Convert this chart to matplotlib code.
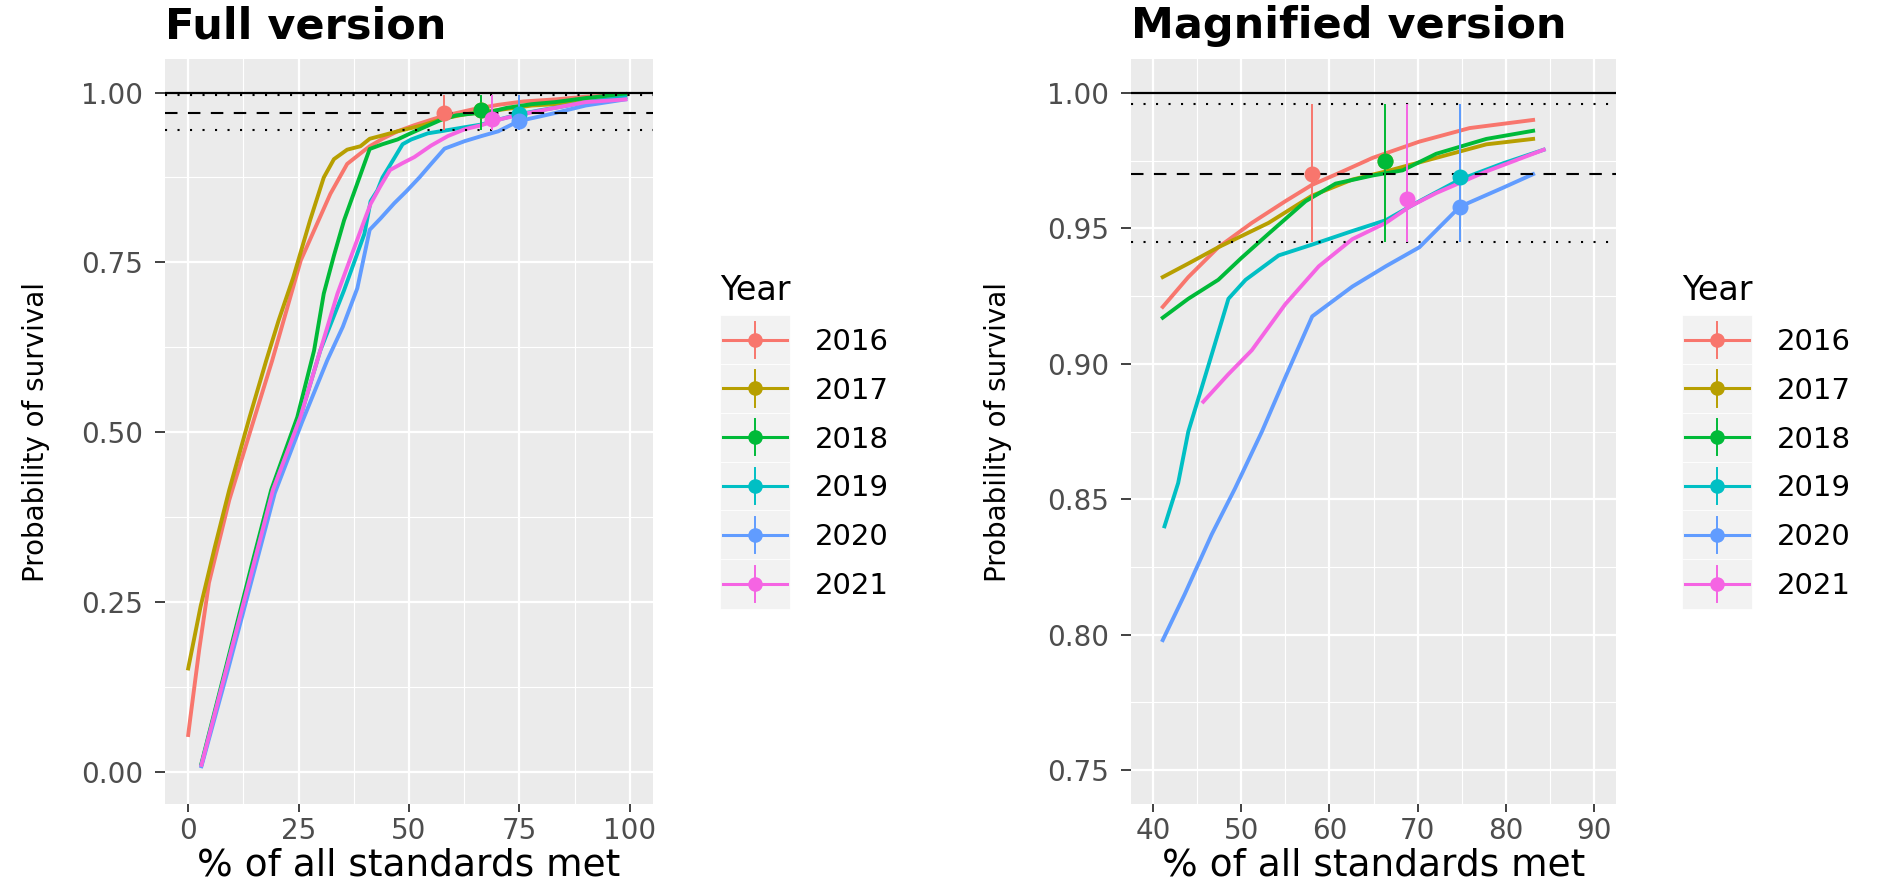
import numpy as np
import matplotlib
matplotlib.use("Agg")
import matplotlib.pyplot as plt
from matplotlib.lines import Line2D
from matplotlib.patches import Rectangle
from matplotlib.legend_handler import HandlerBase
from matplotlib.ticker import FixedLocator, FormatStrFormatter

plt.rcParams['font.family'] = ['DejaVu Sans']

years = ['2016', '2017', '2018', '2019', '2020', '2021']
colors = ['#F8766D', '#B79F00', '#00BA38', '#00BFC4', '#619CFF', '#F564E3']

# survival curves (% of standards met vs probability)
x_2016 = [0.0, 0.5, 2.5, 4.7, 9.3, 14.0, 19.0, 25.5, 32.2, 36.0, 39.9, 41.1, 44.0, 47.4,
          51.2, 55.0, 58.0, 61.5, 64.9, 70.2, 75.9, 83.1, 90.0, 99.0]
y_2016 = [0.054, 0.08, 0.18, 0.278, 0.40, 0.50, 0.605, 0.753, 0.851, 0.895, 0.915, 0.921,
          0.932, 0.943, 0.952, 0.960, 0.966, 0.971, 0.976, 0.982, 0.987, 0.990, 0.994, 0.997]

x_2017 = [0.0, 2.8, 6.0, 9.3, 13.9, 17.7, 20.5, 23.8, 27.6, 30.7, 33.0, 36.0, 39.0, 41.1,
          44.0, 47.4, 53.1, 58.0, 62.6, 66.4, 72.1, 77.8, 83.1, 90.0, 99.0]
y_2017 = [0.152, 0.243, 0.33, 0.415, 0.522, 0.606, 0.665, 0.728, 0.812, 0.875, 0.902, 0.916,
          0.921, 0.932, 0.937, 0.943, 0.952, 0.962, 0.968, 0.971, 0.976, 0.981, 0.983, 0.99, 0.997]

x_2018 = [3.0, 8.4, 14.3, 18.8, 24.7, 28.5, 30.7, 33.0, 35.3, 38.5, 41.1, 44.0, 47.4, 50.0,
          53.1, 57.3, 60.7, 64.9, 68.3, 72.1, 77.8, 83.1, 90.0, 99.0]
y_2018 = [0.012, 0.15, 0.302, 0.415, 0.522, 0.62, 0.704, 0.76, 0.812, 0.87, 0.917, 0.924,
          0.931, 0.939, 0.948, 0.960, 0.9665, 0.9695, 0.9714, 0.9775, 0.983, 0.986, 0.992, 0.998]

x_2019 = [3.0, 8.6, 14.7, 19.2, 25.4, 29.9, 35.3, 39.9, 41.3, 42.85, 44.0, 45.5, 46.8, 48.55,
          50.5, 54.25, 58.05, 62.6, 66.4, 70.2, 74.8, 79.7, 84.3, 90.0, 99.0]
y_2019 = [0.01, 0.15, 0.302, 0.415, 0.522, 0.62, 0.709, 0.792, 0.840, 0.856, 0.875, 0.891,
          0.905, 0.924, 0.931, 0.940, 0.944, 0.949, 0.953, 0.960, 0.968, 0.974, 0.979, 0.986, 0.993]

x_2020 = [3.0, 8.8, 15.0, 19.6, 25.8, 31.5, 35.0, 38.3, 41.1, 43.6, 46.65, 49.3, 52.35, 55.0,
          58.05, 62.6, 66.4, 70.2, 74.8, 79.7, 83.1, 90.0, 99.0]
y_2020 = [0.008, 0.145, 0.297, 0.41, 0.515, 0.606, 0.655, 0.712, 0.798, 0.815, 0.837, 0.854,
          0.875, 0.895, 0.9175, 0.9285, 0.936, 0.943, 0.958, 0.965, 0.970, 0.981, 0.99]

x_2021 = [3.0, 8.6, 14.7, 19.2, 25.4, 29.9, 33.8, 39.9, 41.3, 43.5, 45.7, 48.5, 51.2, 55.0,
          58.8, 62.6, 66.4, 69.1, 72.1, 77.8, 84.3, 90.0, 99.0]
y_2021 = [0.01, 0.15, 0.302, 0.415, 0.522, 0.62, 0.704, 0.812, 0.836, 0.862, 0.886, 0.896,
          0.905, 0.922, 0.936, 0.946, 0.952, 0.958, 0.963, 0.971, 0.979, 0.986, 0.99]

curves_x = [x_2016, x_2017, x_2018, x_2019, x_2020, x_2021]
curves_y = [y_2016, y_2017, y_2018, y_2019, y_2020, y_2021]

# point estimates with their intervals
point_x = [58.0, 66.3, 66.3, 74.8, 74.8, 68.8]
point_y = [0.970, 0.975, 0.975, 0.969, 0.958, 0.961]
ci_low = [0.945, 0.945, 0.945, 0.945, 0.945, 0.945]
ci_high = [0.996, 0.996, 0.996, 0.996, 0.996, 0.996]

# reference lines
ref_solid = 1.0
ref_dashed = 0.97
ref_dotted = [0.996, 0.945]

# part of each curve kept in the magnified version
mag_from = [41.0, 41.0, 41.0, 41.0, 41.0, 45.5]
mag_to = 84.5


class KeyHandler(HandlerBase):
    # ggplot-like key: grey box, horizontal line, vertical range and point
    def create_artists(self, legend, orig_handle, xdescent, ydescent, width, height, fontsize, trans):
        c = orig_handle.get_color()
        x0, y0 = -xdescent, -ydescent
        cx, cy = x0 + width / 2, y0 + height / 2
        key_h = 35.5
        bg = Rectangle((x0, cy - key_h / 2), width, key_h, facecolor='#F2F2F2',
                       edgecolor='white', lw=0.6, transform=trans)
        hl = Line2D([x0 + 2, x0 + width - 2], [cy, cy], color=c, lw=2.2, transform=trans)
        vl = Line2D([cx, cx], [cy - 13, cy + 13], color=c, lw=1.4, transform=trans)
        pt = Line2D([cx], [cy], marker='o', ms=9.5, color=c, ls='none', transform=trans)
        return [bg, hl, vl, pt]


def draw_panel(ax, magnified, xlim, ylim, xmajor, xminor, ymajor, yminor, title, leg_anchor, ylab_x):
    ax.set_facecolor('#EBEBEB')
    for i in range(len(years)):
        x = np.array(curves_x[i])
        y = np.array(curves_y[i])
        if magnified:
            keep = (x >= mag_from[i]) & (x <= mag_to)
            x, y = x[keep], y[keep]
        ax.plot(x, y, color=colors[i], lw=2.8, solid_joinstyle='round', zorder=2)

    ax.axhline(ref_solid, color='black', lw=1.6, zorder=3)
    ax.axhline(ref_dashed, color='black', lw=1.5, ls=(0, (6, 5)), zorder=3)
    for v in ref_dotted:
        ax.axhline(v, color='black', lw=1.5, ls=(0, (1, 5)), zorder=3)

    for i in range(len(years)):
        ax.vlines(point_x[i], ci_low[i], ci_high[i], color=colors[i], lw=1.4, zorder=4)
        ax.plot(point_x[i], point_y[i], 'o', ms=10.5, color=colors[i], zorder=5)

    ax.set_xlim(*xlim)
    ax.set_ylim(*ylim)
    ax.xaxis.set_major_locator(FixedLocator(xmajor))
    ax.xaxis.set_minor_locator(FixedLocator(xminor))
    ax.yaxis.set_major_locator(FixedLocator(ymajor))
    ax.yaxis.set_minor_locator(FixedLocator(yminor))
    ax.yaxis.set_major_formatter(FormatStrFormatter('%.2f'))
    ax.grid(which='major', color='white', lw=1.6)
    ax.grid(which='minor', color='white', lw=0.8)
    ax.set_axisbelow(True)
    for s in ax.spines.values():
        s.set_visible(False)
    ax.tick_params(which='major', length=5.5, width=1.3, color='#333333',
                   labelsize=20, labelcolor='#4D4D4D', pad=4)
    ax.tick_params(axis='y', which='major', length=7, pad=9)
    ax.tick_params(which='minor', length=0)

    ax.set_title(title, loc='left', fontsize=31, fontweight='bold', pad=15)
    ax.set_xlabel('% of all standards met', fontsize=27)
    ax.set_ylabel('Probability of survival', fontsize=20)
    ax.xaxis.set_label_coords(0.5, -0.058)
    ax.yaxis.set_label_coords(ylab_x, 0.5)

    handles = [Line2D([], [], color=c) for c in colors]
    ax.legend(handles, years, handler_map={Line2D: KeyHandler()}, title='Year',
              loc='upper left', bbox_to_anchor=leg_anchor, bbox_transform=fig.transFigure,
              frameon=False, fontsize=21, title_fontsize=24, handlelength=2.4,
              labelspacing=0.715, handletextpad=0.86, borderpad=0, borderaxespad=0,
              alignment='left')


fig = plt.figure(figsize=(18.86, 8.86), dpi=100)
ax1 = fig.add_axes([165 / 1886, 1 - 804 / 886, 488 / 1886, 745 / 886])
ax2 = fig.add_axes([1131 / 1886, 1 - 804 / 886, 485 / 1886, 745 / 886])

draw_panel(ax1, False, (-5.25, 105.25), (-0.0476, 1.0495),
           [0, 25, 50, 75, 100], [12.5, 37.5, 62.5, 87.5],
           [0, 0.25, 0.5, 0.75, 1.0], [0.125, 0.375, 0.625, 0.875],
           'Full version', (720 / 1886, 1 - 274 / 886), -0.235)
draw_panel(ax2, True, (37.5, 92.5), (0.7375, 1.0125),
           [40, 50, 60, 70, 80, 90], [45, 55, 65, 75, 85],
           [0.75, 0.80, 0.85, 0.90, 0.95, 1.00], [0.775, 0.825, 0.875, 0.925, 0.975],
           'Magnified version', (1682 / 1886, 1 - 274 / 886), -0.245)

fig.savefig('out.png', dpi=100, facecolor='white')
